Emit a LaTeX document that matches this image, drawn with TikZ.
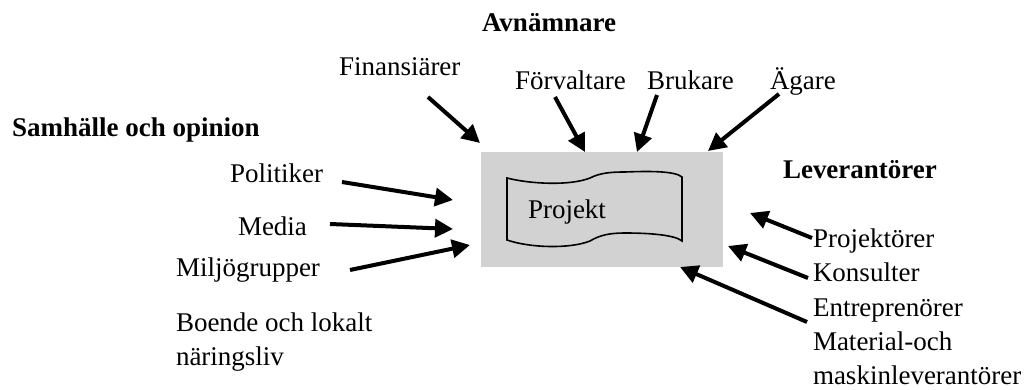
\documentclass[tikz,border=0pt]{standalone}
\usepackage{fontspec}
\setmainfont{Liberation Serif}
\usetikzlibrary{arrows.meta}
\tikzset{
  lbl/.style={inner sep=0pt, outer sep=0pt, font=\fontsize{13.5}{17.25}\selectfont},
  head/.style={lbl, font=\fontsize{13.5}{17}\selectfont\bfseries},
  arr/.style={line width=2pt, -{Triangle[length=9pt,width=9pt]}},
  scrollline/.style={draw=black, line width=0.8pt, fill=boxgray},
}
\definecolor{boxgray}{RGB}{210,210,210}
\begin{document}
\begin{tikzpicture}[x=0.5pt,y=-0.5pt]
\useasboundingbox (0,0) rectangle (1030,390);
% central box
\path[fill=boxgray] (481,152) rectangle (723,267);
\draw[scrollline] (507,178) .. controls (530,184) and (570,186) .. (590,178)
  .. controls (600,173) and (610,172) .. (625,172)
  .. controls (650,171) and (675,171) .. (682,177)
  -- (682,241)
  .. controls (675,235) and (650,233) .. (625,233)
  .. controls (610,233) and (600,235) .. (590,241)
  .. controls (570,249) and (530,248) .. (507,240) -- cycle;
\node[lbl, anchor=base west] (proj) at (528,219) {Projekt};
% headings
\node[head, anchor=base west] (avn) at (482,32) {Avnämnare};
\node[head, anchor=base west] (sam) at (12,137) {Samhälle och opinion};
\node[head, anchor=base west] (lev) at (783,179) {Leverantörer};
% top labels
\node[lbl, anchor=base west] (fin) at (339,76) {Finansiärer};
\node[lbl, anchor=base west] (forv) at (515,90) {Förvaltare};
\node[lbl, anchor=base west] (bruk) at (647,90) {Brukare};
\node[lbl, anchor=base west] (agare) at (770,90) {Ägare};
% left labels
\node[lbl, anchor=base west] (pol) at (230,183) {Politiker};
\node[lbl, anchor=base west] (med) at (238,236) {Media};
\node[lbl, anchor=base west] (milj) at (176,277) {Miljögrupper};
\node[lbl, anchor=base west, align=left, font=\fontsize{13.5}{17}\selectfont] (boe) at (176,365) {Boende och lokalt\\näringsliv};
% right labels
\node[lbl, anchor=base west, align=left] (levlist) at (813,385) {Projektörer\\Konsulter\\Entreprenörer\\Material-och\\maskinleverantörer};
% arrow coordinates
\coordinate (s1) at (428,97);  \coordinate (e1) at (480,143);
\coordinate (s2) at (555,97);  \coordinate (e2) at (585,152);
\coordinate (s3) at (657,95);  \coordinate (e3) at (637,152);
\coordinate (s4) at (779,94);  \coordinate (e4) at (708,151);
\coordinate (s5) at (342,182); \coordinate (e5) at (453,200);
\coordinate (s6) at (330,224); \coordinate (e6) at (453,229);
\coordinate (s7) at (350,270); \coordinate (e7) at (470,245);
\coordinate (s8) at (812,238); \coordinate (e8) at (750,213);
\coordinate (s9) at (808,278); \coordinate (e9) at (728,246);
\coordinate (s10) at (807,322); \coordinate (e10) at (680,267);
\foreach \i in {1,...,10} { \draw[arr] (s\i) -- (e\i); }
\end{tikzpicture}
\end{document}
